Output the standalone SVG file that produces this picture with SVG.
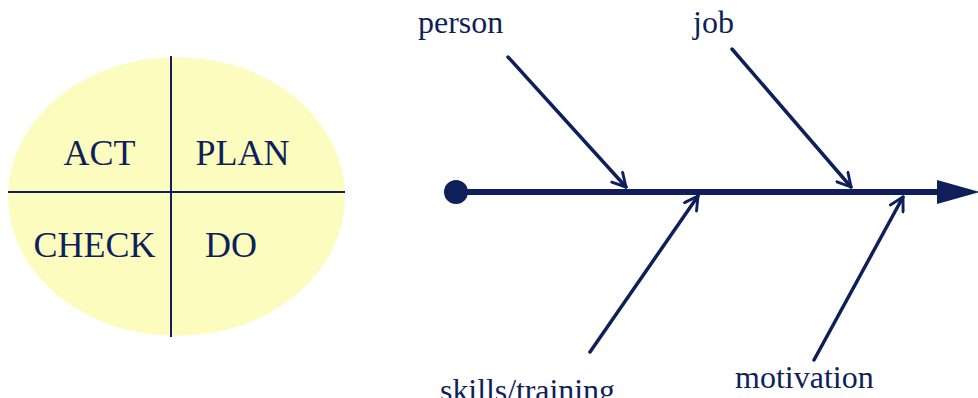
<svg xmlns="http://www.w3.org/2000/svg" width="978" height="398" viewBox="0 0 978 398">
<defs>
<style>
.t{font-family:"Liberation Serif","Times New Roman",serif;fill:#0f1f5a}
.q{font-size:36px}
.l{font-size:32px}
.ax{stroke:#0f1f5a;stroke-width:2}
.bone{stroke:#0f1f5a;stroke-width:3.5;fill:none;stroke-linecap:round}
.spine{stroke:#0f1f5a;stroke-width:6;fill:none}
</style>
<marker id="open" viewBox="0 0 12 12" refX="10" refY="6" markerWidth="5" markerHeight="5" orient="auto" markerUnits="strokeWidth">
<path d="M1,1 L10,6 L1,11" fill="none" stroke="#0f1f5a" stroke-width="2" stroke-linecap="round" stroke-linejoin="round"/>
</marker>
</defs>
<rect width="978" height="398" fill="#ffffff"/>
<g id="pdca">
<ellipse cx="176.5" cy="196.5" rx="168.5" ry="139.5" fill="#fdfcbf"/>
<line class="ax" x1="171" y1="56" x2="171" y2="337"/>
<line class="ax" x1="8" y1="192" x2="345" y2="192"/>
<text class="t q" x="99.5" y="165" text-anchor="middle">ACT</text>
<text class="t q" x="242.5" y="165" text-anchor="middle">PLAN</text>
<text class="t q" x="94.5" y="257" text-anchor="middle">CHECK</text>
<text class="t q" x="231" y="257" text-anchor="middle">DO</text>
</g>
<g id="spine">
<circle cx="456" cy="192" r="12" fill="#0f1f5a"/>
<line class="spine" x1="456" y1="192" x2="940" y2="192"/>
<path d="M937,180 L980,192 L937,204 Z" fill="#0f1f5a"/>
</g>
<g id="connectors">
<line class="bone" x1="508" y1="57" x2="626" y2="187" marker-end="url(#open)"/>
<line class="bone" x1="732" y1="49" x2="851" y2="187" marker-end="url(#open)"/>
<line class="bone" x1="590" y1="352" x2="698" y2="196" marker-end="url(#open)"/>
<line class="bone" x1="814" y1="360" x2="903" y2="197" marker-end="url(#open)"/>
</g>
<g id="person"><text class="t l" x="418" y="33">person</text></g>
<g id="job"><text class="t l" x="693" y="33">job</text></g>
<g id="skills"><text class="t l" x="440" y="401" textLength="175">skills/training</text></g>
<g id="motivation"><text class="t l" x="735" y="388">motivation</text></g>
</svg>
